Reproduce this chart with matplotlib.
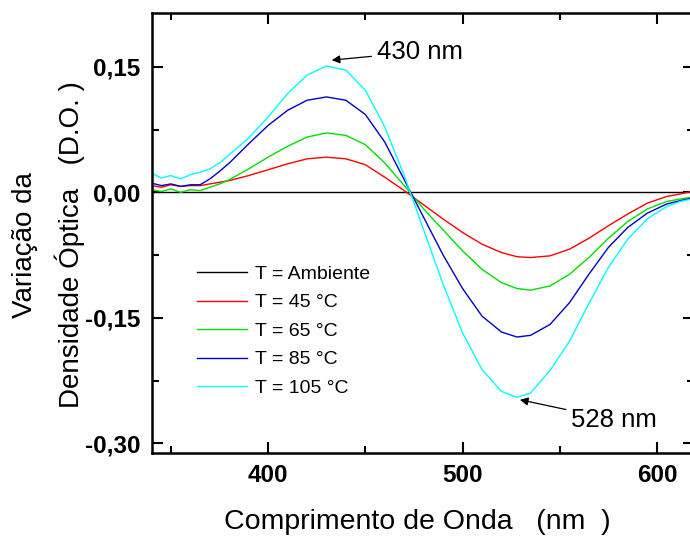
import matplotlib
matplotlib.use("Agg")
import matplotlib.pyplot as plt
from matplotlib.ticker import FuncFormatter, MultipleLocator

plt.rcParams['font.family'] = ['Liberation Sans', 'DejaVu Sans']

wl = [340, 345, 350, 355, 360, 365, 370, 375, 380, 390, 400, 410, 420, 430, 440, 450, 460, 470,
      480, 490, 500, 510, 520, 528, 535, 545, 555, 565, 575, 585, 595, 605, 612, 618]

amb = [0.0] * len(wl)
t45 = [0.008, 0.006, 0.009, 0.007, 0.008, 0.008, 0.010, 0.012, 0.014, 0.020, 0.027, 0.034, 0.040, 0.042,
       0.040, 0.033, 0.018, 0.002, -0.015, -0.032, -0.048, -0.062, -0.072, -0.077, -0.078, -0.076,
       -0.068, -0.055, -0.040, -0.026, -0.013, -0.005, -0.002, 0.001]
t65 = [0.003, 0.001, 0.004, 0.000, 0.003, 0.002, 0.006, 0.010, 0.015, 0.028, 0.042, 0.055, 0.066, 0.071,
       0.068, 0.057, 0.035, 0.008, -0.020, -0.045, -0.070, -0.092, -0.108, -0.115, -0.117, -0.112,
       -0.098, -0.078, -0.055, -0.035, -0.020, -0.011, -0.008, -0.006]
t85 = [0.011, 0.008, 0.010, 0.007, 0.009, 0.009, 0.016, 0.025, 0.035, 0.058, 0.080, 0.098, 0.110, 0.114,
       0.110, 0.093, 0.060, 0.015, -0.030, -0.075, -0.115, -0.148, -0.167, -0.173, -0.171, -0.158,
       -0.132, -0.098, -0.066, -0.042, -0.025, -0.014, -0.010, -0.007]
t105 = [0.023, 0.017, 0.020, 0.016, 0.021, 0.024, 0.028, 0.035, 0.045, 0.065, 0.090, 0.118, 0.140, 0.151,
        0.146, 0.122, 0.078, 0.020, -0.045, -0.110, -0.168, -0.212, -0.238, -0.245, -0.240, -0.213,
        -0.178, -0.133, -0.090, -0.056, -0.032, -0.017, -0.011, -0.008]

labels = ['T = Ambiente', 'T = 45 \u00b0C', 'T = 65 \u00b0C', 'T = 85 \u00b0C', 'T = 105 \u00b0C']
colors = ['black', '#ff0000', '#00e000', '#0000cc', '#00ffff']

fig = plt.figure(figsize=(6.9, 5.4), dpi=100)
ax = fig.add_axes([0.2196, 0.1606, 0.786, 0.8148])

for y, lab, c in zip([amb, t45, t65, t85, t105], labels, colors):
    ax.plot(wl, y, color=c, lw=1.0, label=lab)

ax.set_xlim(340, 619)
ax.set_ylim(-0.312, 0.214)
ax.xaxis.set_major_locator(MultipleLocator(100))
ax.xaxis.set_minor_locator(MultipleLocator(50))
ax.yaxis.set_major_locator(MultipleLocator(0.15))
ax.yaxis.set_minor_locator(MultipleLocator(0.075))
ax.yaxis.set_major_formatter(FuncFormatter(lambda v, p: f"{v:.2f}".replace('.', ',').replace('-0,00', '0,00')))
ax.tick_params(which='both', direction='in', top=True, right=True, width=1.5)
ax.tick_params(which='major', length=8, labelsize=17.5, pad=8)
ax.tick_params(which='minor', length=5)
for lbl in ax.get_xticklabels() + ax.get_yticklabels():
    lbl.set_fontweight('bold')
for s in ax.spines.values():
    s.set_linewidth(1.8)

leg = ax.legend(loc='upper left', bbox_to_anchor=(0.069, 0.445), frameon=False, fontsize=14,
                handlelength=2.6, handletextpad=0.4, labelspacing=0.56, borderaxespad=0)

ax.annotate('430 nm', xy=(432.7, 0.158), xytext=(456, 0.168), fontsize=18.5, va='center', ha='left',
            arrowprops=dict(arrowstyle='-|>', color='black', lw=0.9, shrinkA=2, shrinkB=0, mutation_scale=12))
ax.annotate('528 nm', xy=(529.5, -0.248), xytext=(556, -0.272), fontsize=18.5, va='center', ha='left',
            arrowprops=dict(arrowstyle='-|>', color='black', lw=0.9, shrinkA=2, shrinkB=0, mutation_scale=12))

fig.text(417 / 690, 1 - 522 / 540, 'Comprimento de Onda   (nm  )', fontsize=20.5, ha='center', va='center')
fig.text(24.7 / 690, 1 - 245 / 540, 'Variação da', fontsize=20, ha='center', va='center', rotation=90)
fig.text(70 / 690, 1 - 245 / 540, 'Densidade Óptica   (D.O. )', fontsize=20, ha='center', va='center', rotation=90)

fig.savefig('out.png', dpi=100)
